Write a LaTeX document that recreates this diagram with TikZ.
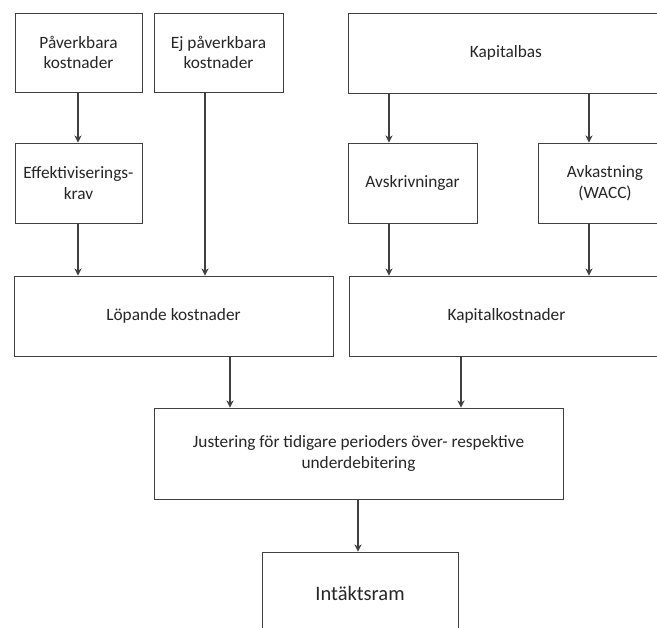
\documentclass[tikz,border=0pt]{standalone}
\usepackage{fontspec}
\setmainfont{Carlito}
\usetikzlibrary{arrows.meta}
\begin{document}
\begin{tikzpicture}[x=1pt,y=-1pt,
  box/.style={draw=black!75, line width=0.9pt, align=center, inner sep=2pt,
    font=\fontsize{17.3}{20.5}\selectfont, text=black!85},
  arr/.style={draw=black!75, line width=1.8pt, -{Stealth[length=7pt,width=7pt,inset=2pt]}}]
\clip (0,0) rectangle (657,628);
\fill[white] (0,0) rectangle (657,628);
% row 1
\node[box, minimum width=127pt, minimum height=79pt] (p1) at (78.5,52.5) {Påverkbara\\kostnader};
\node[box, minimum width=129pt, minimum height=79pt] (p2) at (218.5,52.5) {Ej påverkbara\\kostnader};
\node[box, minimum width=316pt, minimum height=80pt] (kb) at (506,53) {Kapitalbas};
% row 2
\node[box, minimum width=127pt, minimum height=80pt] (ef) at (78.5,183) {Effektiviserings-\\krav};
\node[box, minimum width=129pt, minimum height=80pt] (av) at (412.5,183) {Avskrivningar};
\node[box, minimum width=134pt, minimum height=80pt] (wa) at (605,183) {Avkastning\\(WACC)};
% row 3
\node[box, minimum width=319pt, minimum height=80pt] (lk) at (173.5,316) {Löpande kostnader};
\node[box, minimum width=315pt, minimum height=80pt] (kk) at (506.5,316) {Kapitalkostnader};
% row 4
\node[box, minimum width=409pt, minimum height=91pt] (ju) at (358.5,453.5) {Justering för tidigare perioders över- respektive\\underdebitering};
% row 5
\node[box, minimum width=196pt, minimum height=82pt, font=\fontsize{20.5}{24}\selectfont] (in) at (360,593) {Intäktsram};
% arrow columns
\coordinate (c1) at (78,0);
\coordinate (c2) at (205,0);
\coordinate (c3) at (389,0);
\coordinate (c4) at (589,0);
\coordinate (c5) at (230,0);
\coordinate (c6) at (461,0);
\coordinate (c7) at (358,0);
% arrows
\draw[arr] (p1.south -| c1) -- (ef.north -| c1);
\draw[arr] (ef.south -| c1) -- (lk.north -| c1);
\draw[arr] (p2.south -| c2) -- (lk.north -| c2);
\draw[arr] (kb.south -| c3) -- (av.north -| c3);
\draw[arr] (kb.south -| c4) -- (wa.north -| c4);
\draw[arr] (av.south -| c3) -- (kk.north -| c3);
\draw[arr] (wa.south -| c4) -- (kk.north -| c4);
\draw[arr] (lk.south -| c5) -- (ju.north -| c5);
\draw[arr] (kk.south -| c6) -- (ju.north -| c6);
\draw[arr] (ju.south -| c7) -- (in.north -| c7);
\end{tikzpicture}
\end{document}
